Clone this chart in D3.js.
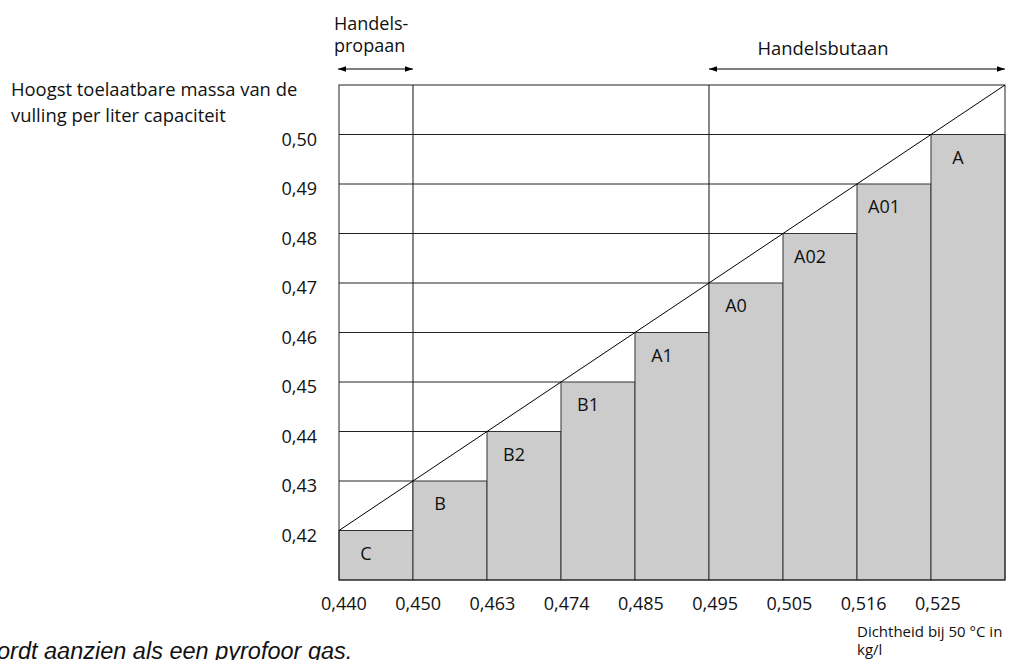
<!DOCTYPE html>
<html><head><meta charset="utf-8">
<script src="https://cdn.jsdelivr.net/npm/d3@7"></script>
<style>
html,body{margin:0;padding:0;background:#fff;}
svg{display:block;font-family:"Open Sans", Lato, sans-serif;}
</style></head>
<body>
<svg id="chart" width="1013" height="660"></svg>
<script>
const categories = ["C","B","B2","B1","A1","A0","A02","A01","A"];
const values = [0.42,0.43,0.44,0.45,0.46,0.47,0.48,0.49,0.50];
const xTickLabels = ["0,440","0,450","0,463","0,474","0,485","0,495","0,505","0,516","0,525"];
const yTicks = [0.42,0.43,0.44,0.45,0.46,0.47,0.48,0.49,0.50];
const yDomain = [0.41,0.51];

const svg = d3.select("#chart");
const L = 339, R = 1005, T = 85, B = 580;
const x = d3.scaleBand().domain(categories).range([L,R]).padding(0);
const y = d3.scaleLinear().domain(yDomain).range([B,T]);
const xl = d3.scalePoint().domain(xTickLabels).range([344,938]);
const fmt = v => d3.format(".2f")(v).replace(".",",");

const defs = svg.append("defs");
["s","e"].forEach(k=>{
  defs.append("marker").attr("id","arr"+k).attr("viewBox","0 0 10 10")
    .attr("refX", k==="e"?10:0).attr("refY",5).attr("markerWidth",9).attr("markerHeight",8)
    .attr("markerUnits","userSpaceOnUse").attr("orient","auto")
    .append("path").attr("d", k==="e"?"M0,1.5 L10,5 L0,8.5 Z":"M10,1.5 L0,5 L10,8.5 Z").attr("fill","#000");
});

// horizontal guide lines from y axis to bar left edge
svg.append("g").selectAll("line").data(values.slice(1)).join("line")
  .attr("x1",L).attr("x2",(d,i)=>x(categories[i+1]))
  .attr("y1",d=>y(d)).attr("y2",d=>y(d))
  .attr("stroke","#222").attr("stroke-width",1);

// vertical dividers
["B","A0"].forEach(c=>{
  svg.append("line").attr("x1",x(c)).attr("x2",x(c)).attr("y1",T).attr("y2",B)
    .attr("stroke","#111").attr("stroke-width",1);
});

// bars
svg.append("g").selectAll("rect").data(values).join("rect")
  .attr("x",(d,i)=>x(categories[i])).attr("width",x.bandwidth())
  .attr("y",d=>y(d)).attr("height",d=>B-y(d))
  .attr("fill","#cccccc").attr("stroke","#333").attr("stroke-width",1);

// frame
svg.append("rect").attr("x",L).attr("y",T).attr("width",R-L).attr("height",B-T)
  .attr("fill","none").attr("stroke","#222").attr("stroke-width",1);

// diagonal
svg.append("line").attr("x1",x(categories[0])).attr("y1",y(values[0]))
  .attr("x2",R).attr("y2",y(yDomain[1])).attr("stroke","#000").attr("stroke-width",1);

// bar labels
svg.append("g").selectAll("text").data(values).join("text")
  .attr("x",(d,i)=>x(categories[i])+27).attr("y",d=>y(d)+29)
  .attr("text-anchor","middle").attr("font-size",18).attr("fill","#111")
  .text((d,i)=>categories[i]);

// y tick labels
svg.append("g").selectAll("text").data(yTicks).join("text")
  .attr("x",317).attr("y",d=>y(d)+11).attr("text-anchor","end")
  .attr("font-size",18).attr("fill","#111").text(fmt);

// x tick labels
svg.append("g").selectAll("text").data(xTickLabels).join("text")
  .attr("x",d=>xl(d)).attr("y",610).attr("text-anchor","middle")
  .attr("font-size",18).attr("fill","#111").text(d=>d);

// y axis title
const yt = svg.append("text").attr("font-size",18.4).attr("fill","#111");
yt.append("tspan").attr("x",11).attr("y",96).text("Hoogst toelaatbare massa van de");
yt.append("tspan").attr("x",11).attr("y",122).text("vulling per liter capaciteit");

// x axis title
const xt = svg.append("text").attr("font-size",15).attr("fill","#111");
xt.append("tspan").attr("x",857).attr("y",637).text("Dichtheid bij 50 °C in");
xt.append("tspan").attr("x",857).attr("y",655).text("kg/l");

// Handelspropaan
svg.append("text").attr("x",334).attr("y",30).attr("font-size",18).attr("fill","#111").text("Handels-");
svg.append("text").attr("x",334).attr("y",52).attr("font-size",18).attr("fill","#111").text("propaan");
svg.append("line").attr("x1",x("C")-1).attr("x2",x("B")).attr("y1",69).attr("y2",69)
  .attr("stroke","#000").attr("stroke-width",1.2)
  .attr("marker-start","url(#arrs)").attr("marker-end","url(#arre)");

// Handelsbutaan
svg.append("text").attr("x",823).attr("y",55).attr("text-anchor","middle")
  .attr("font-size",18.4).attr("fill","#111").text("Handelsbutaan");
svg.append("line").attr("x1",x("A0")).attr("x2",R).attr("y1",69).attr("y2",69)
  .attr("stroke","#000").attr("stroke-width",1.2)
  .attr("marker-start","url(#arrs)").attr("marker-end","url(#arre)");

// footnote (clipped at left and bottom edges, as in the source)
svg.append("text").attr("x",-3).attr("y",659).attr("font-family","'Liberation Sans', Arial, sans-serif")
  .attr("font-style","italic").attr("font-size",23.5).attr("fill","#111")
  .text("ordt aanzien als een pyrofoor gas.");
</script>
</body></html>
